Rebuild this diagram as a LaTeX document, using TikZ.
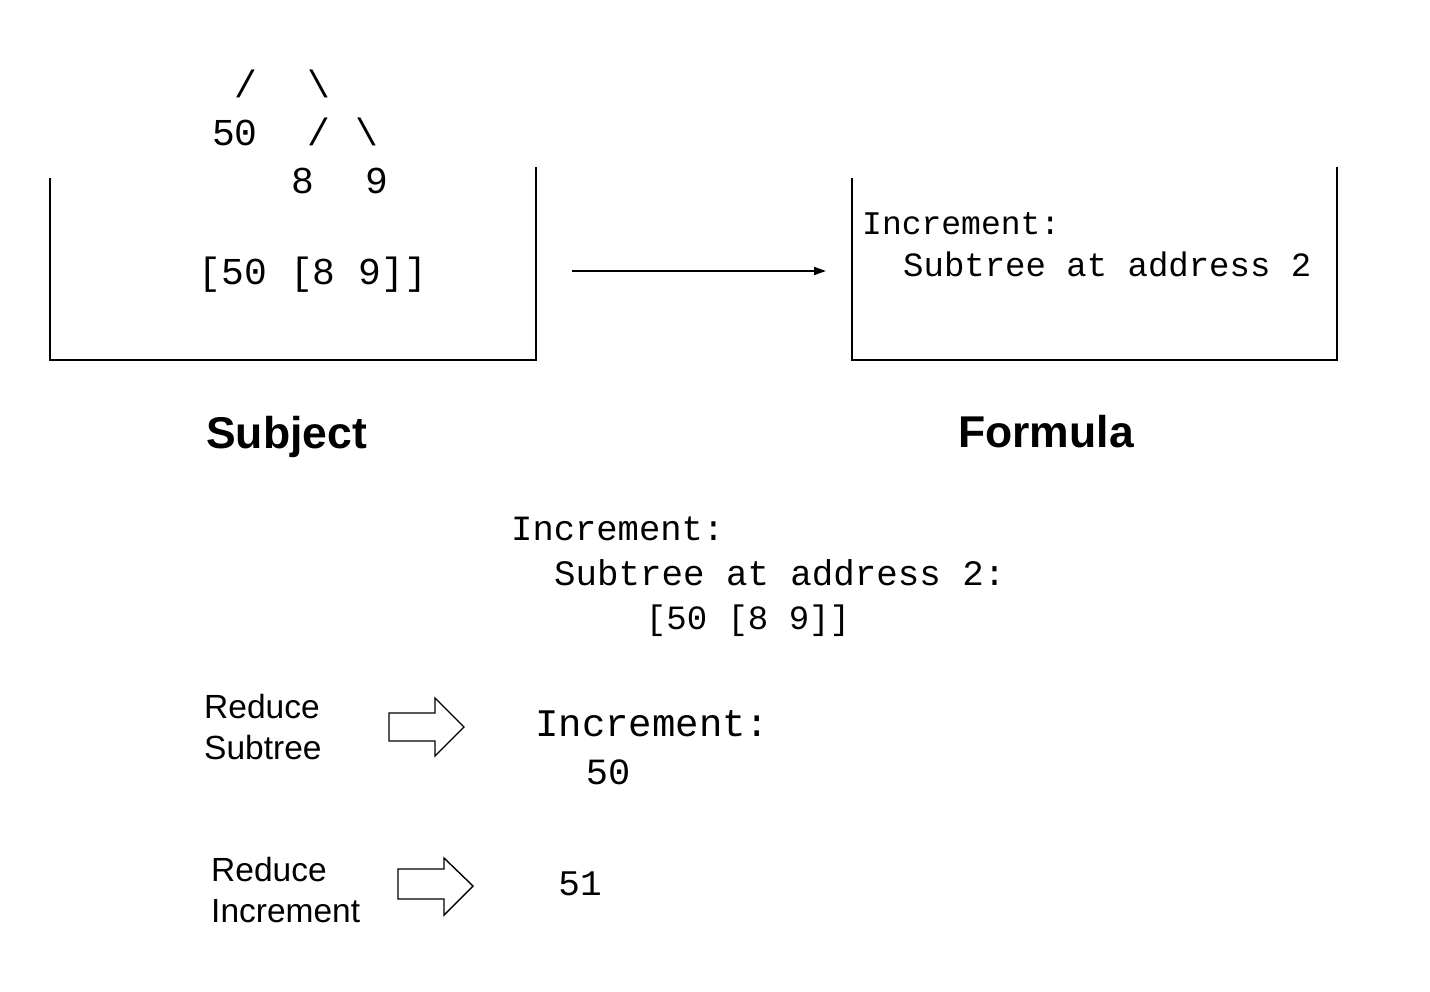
\documentclass[tikz,border=0pt]{standalone}
\usepackage{fontspec}
\setmainfont{Liberation Sans}
\setmonofont{Liberation Mono}
\usetikzlibrary{arrows.meta,positioning}
\definecolor{inkblack}{RGB}{0,0,0}

\begin{document}
\begin{tikzpicture}[x=1pt,y=-1pt,
    mono/.style={font=\ttfamily\fontsize{#1}{#1}\selectfont, inner sep=0pt, anchor=base west, inkblack},
    sidenote/.style={font=\fontsize{33.5}{33.5}\selectfont, inner sep=0pt, anchor=base west, inkblack},
    heading/.style={font=\bfseries\fontsize{44.5}{44.5}\selectfont, inner sep=0pt, anchor=base west, inkblack},
    wall/.style={line width=2pt, inkblack},
    blockarrow/.style={line width=1.4pt, inkblack, line join=miter}]
  \useasboundingbox (0,0) rectangle (1430,992);

  % Subject container (open at the top)
  \draw[wall] (50,178) -- (50,360) -- (536,360) -- (536,167);
  % Formula container (open at the top)
  \draw[wall] (852,178) -- (852,360) -- (1337,360) -- (1337,167);

  % Tree drawn above the subject
  \node[mono=38, anchor=base] (edgeL) at (246,98) {/};
  \node[mono=38, anchor=base] (edgeR) at (319,98) {\textbackslash};
  \node[mono=38, anchor=base] (leaf50) at (235,146) {50};
  \node[mono=38, anchor=base] (edgeLL) at (319,146) {/};
  \node[mono=38, anchor=base] (edgeLR) at (367,146) {\textbackslash};
  \node[mono=38, anchor=base] (leaf8) at (303,194) {8};
  \node[mono=38, anchor=base] (leaf9) at (377,194) {9};

  % Contents of the two containers
  \node[mono=38, anchor=base] (subjtext) at (313,285) {[50 [8 9]]};
  \node[mono=33] (formA) at (862,235) {Increment:};
  \node[mono=34] (formB) at (903,277) {Subtree at address 2};

  % Arrow from subject to formula
  \coordinate (arrstart) at (572,271);
  \coordinate (arrend) at (826,271);
  \draw[line width=1.6pt, -{Triangle[length=12pt,width=8pt]}] (arrstart) -- (arrend);

  % Captions
  \node[heading] (subjcap) at (206,448) {Subject};
  \node[heading] (formcap) at (958,447) {Formula};

  % Reduction steps
  \node[mono=35.5] (stepA) at (511,540) {Increment:};
  \node[mono=35.8] (stepB) at (554,585) {Subtree at address 2:};
  \node[mono=34, anchor=base] (stepC) at (748,629) {[50 [8 9]]};

  \node[sidenote] (redA1) at (204,718) {Reduce};
  \node[sidenote] (redA2) at (204,759) {Subtree};
  \draw[blockarrow] (389,713) -- (435,713) -- (435,698) -- (464,727)
    -- (435,756) -- (435,741) -- (389,741) -- cycle;
  \node[mono=39] (stepD) at (535,736) {Increment:};
  \node[mono=37, anchor=base] (stepE) at (608,784) {50};

  \node[sidenote] (redB1) at (211,881) {Reduce};
  \node[sidenote] (redB2) at (211,922) {Increment};
  \draw[blockarrow] (398,869) -- (444,869) -- (444,858) -- (473,886)
    -- (444,915) -- (444,899) -- (398,899) -- cycle;
  \node[mono=36, anchor=base] (stepF) at (580,895) {51};
\end{tikzpicture}
\end{document}
